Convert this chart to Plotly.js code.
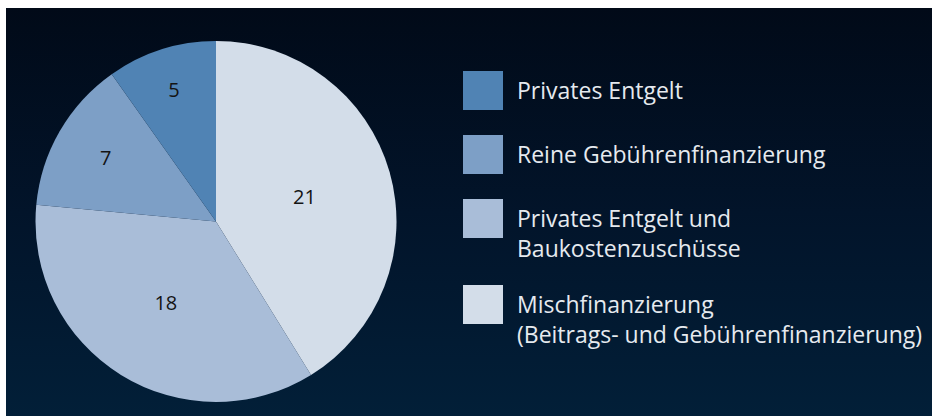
<!DOCTYPE html>
<html>
<head>
<meta charset="utf-8">
<script src="https://cdn.plot.ly/plotly-3.0.1.min.js"></script>
<style>
html,body{margin:0;padding:0;background:#ffffff;}
#wrap{position:relative;width:932px;height:419px;overflow:hidden;}
#bg{position:absolute;left:6px;top:8px;width:926px;height:408px;background:linear-gradient(to bottom,#010a18 0%,#02142a 50%,#021f38 100%);}
#chart{position:absolute;left:0;top:0;width:932px;height:419px;}
</style>
</head>
<body>
<div id="wrap"><div id="bg"></div><div id="chart"></div></div>
<script>
const categories = ["Privates Entgelt", "Reine Gebührenfinanzierung", "Privates Entgelt und<br>Baukostenzuschüsse", "Mischfinanzierung<br>(Beitrags- und Gebührenfinanzierung)"];
const values = [5, 7, 18, 21];
const colors = ["#5083b4", "#7d9fc6", "#a9bdd8", "#d3dde9"];

const W = 932, H = 419;
const trace = {
  type: "pie",
  labels: categories.slice().reverse(),
  values: values.slice().reverse(),
  sort: false,
  direction: "clockwise",
  rotation: 0,
  marker: {colors: colors.slice().reverse(), line: {width: 0}},
  textinfo: "value",
  textposition: "inside",
  insidetextorientation: "horizontal",
  textfont: {family: "Open Sans, sans-serif", size: 20, color: "#141414"},
  hoverinfo: "label+value",
  showlegend: false,
  domain: {x: [35/W, 397/W], y: [1-402/H, 1-41/H]}
};

const legendTops = [71, 135, 199, 285];
const shapes = [], annotations = [];
legendTops.forEach((t, i) => {
  shapes.push({type: "rect", xref: "paper", yref: "paper",
    x0: 463/W, x1: 503/W, y0: 1-(t+39)/H, y1: 1-t/H,
    fillcolor: colors[i], line: {width: 0}});
  annotations.push({xref: "paper", yref: "paper", x: 515/W, y: 1-(t+1)/H,
    xanchor: "left", yanchor: "top", align: "left", showarrow: false,
    text: categories[i],
    font: {family: "Open Sans, sans-serif", size: 23, color: "#e6eaef"}});
});

Plotly.newPlot("chart", [trace], {
  width: W, height: H,
  margin: {l: 0, r: 0, t: 0, b: 0},
  paper_bgcolor: "rgba(0,0,0,0)",
  plot_bgcolor: "rgba(0,0,0,0)",
  shapes: shapes,
  annotations: annotations
}, {displayModeBar: false, staticPlot: true});
</script>
</body>
</html>
